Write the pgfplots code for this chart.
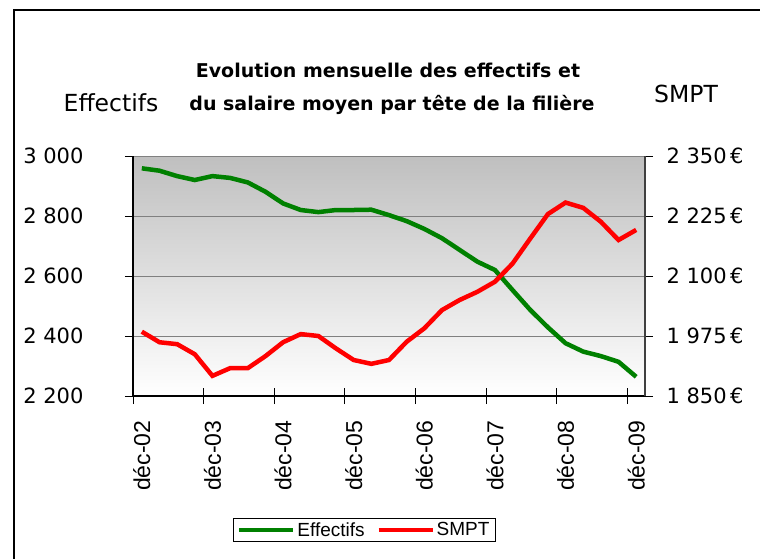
\documentclass[border=0pt]{standalone}
\usepackage{fontspec}
\setmainfont{DejaVu Sans}
\newfontfamily\legfont{Liberation Sans}
\usepackage{pgfplots}
\usepackage{pgfplotstable}
\pgfplotsset{compat=1.18}

\definecolor{effgreen}{RGB}{0,128,0}
\definecolor{smptred}{RGB}{255,0,0}

% quarterly values, dec-02 .. dec-09
\pgfplotstableread{
i  eff   smpt
0  2959  1984
1  2951  1962
2  2933  1958
3  2920  1937
4  2933  1892
5  2927  1908
6  2912  1908
7  2881  1933
8  2842  1962
9  2820  1979
10 2813  1975
11 2820  1949
12 2820  1925
13 2821  1917
14 2803  1925
15 2783  1963
16 2757  1991
17 2726  2029
18 2687  2050
19 2648  2067
20 2620  2088
21 2553  2126
22 2487  2178
23 2429  2229
24 2376  2253
25 2348  2242
26 2333  2213
27 2314  2175
28 2264  2196
}\datatable

\pgfplotsset{
  base/.style={
    at={(133pt,162pt)}, anchor=south west,
    scale only axis, width=512pt, height=240pt,
    xmin=-0.5, xmax=28.5,
    axis line style={-, black, line width=1.2pt},
    tick style={black, line width=1pt},
    ticklabel style={font=\fontsize{21}{25}\selectfont},
    /pgf/number format/.cd, 1000 sep={\ }, assume math mode=true,
  },
}

\begin{document}
\begin{tikzpicture}[x=1pt,y=1pt]
\useasboundingbox (0,0) rectangle (760,558);
\draw[line width=2pt] (14,-20) rectangle (790,548);

\node[anchor=base, font=\bfseries\fontsize{19}{22}\selectfont] at (388,480) {Evolution mensuelle des effectifs et};
\node[anchor=base, font=\bfseries\fontsize{19}{22}\selectfont] at (392,447) {du salaire moyen par tête de la filière};
\node[anchor=base, font=\fontsize{23.5}{26}\selectfont] at (111,446) {Effectifs};
\node[anchor=base, font=\fontsize{23.5}{26}\selectfont] at (686,455) {SMPT};

% left axis: effectifs
\begin{axis}[base,
  axis background/.style={top color=black!25, bottom color=white},
  ymin=2200, ymax=3000, ytick={2200,2400,...,3000},
  axis x line*=bottom, axis y line*=left,
  tick align=outside, major tick length=8pt,
  ymajorgrids, major grid style={gray, line width=1pt},
  xtick={0,4,...,28}, xtick style={draw=none},
  xticklabels={déc-02,déc-03,déc-04,déc-05,déc-06,déc-07,déc-08,déc-09},
  xticklabel style={rotate=90, anchor=east, font=\legfont\fontsize{23}{26}\selectfont},
  xticklabel shift=13pt, yticklabel shift=38pt,
]
\addplot[effgreen, line width=4.5pt] table[x=i, y=eff] {\datatable};
\end{axis}

% x tick marks between the years
\begin{axis}[base,
  ymin=0, ymax=1, ytick=\empty,
  axis x line*=bottom, axis y line=none,
  tick align=center, major tick length=16pt,
  xtick={-0.5,3.5,...,27.5}, xticklabels={},
]
\end{axis}

% right axis: SMPT
\begin{axis}[base,
  ymin=1850, ymax=2350, ytick={1850,1975,2100,2225,2350},
  yticklabel={\pgfmathprintnumber{\tick}\,€},
  axis y line*=right, axis x line=none,
  axis line style={-, black!75, line width=1.2pt},
  tick align=outside, major tick length=8pt,
  yticklabel shift=10pt,
  legend style={at={(0.452,-0.558)}, anchor=center, draw=black, line width=1pt,
    font=\legfont\fontsize{19}{22}\selectfont, inner xsep=4pt},
  legend columns=2,
  legend image code/.code={\draw[#1, line width=4pt] (0pt,0pt) -- (54pt,0pt);},
  /tikz/every even column/.append style={column sep=10pt},
]
\addlegendimage{effgreen, line width=4.5pt}
\addlegendentry{Effectifs}
\addplot[smptred, line width=4.5pt] table[x=i, y=smpt] {\datatable};
\addlegendentry{SMPT}
\end{axis}
\end{tikzpicture}
\end{document}
